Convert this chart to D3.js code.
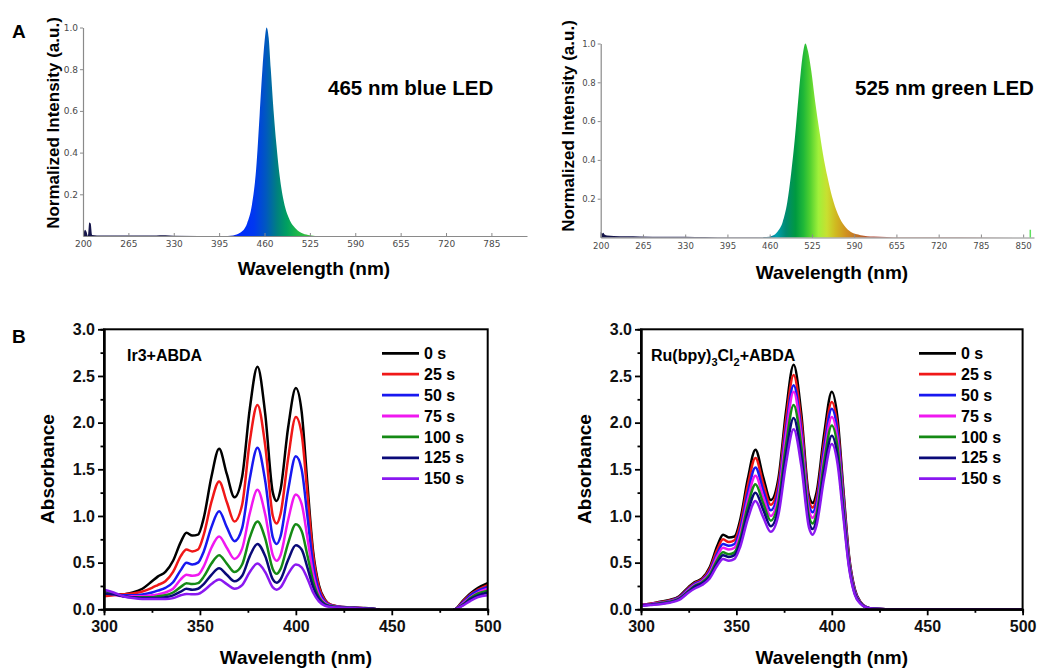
<!DOCTYPE html>
<html>
<head>
<meta charset="utf-8">
<script src="https://cdn.jsdelivr.net/npm/d3@7"></script>
<style>
body { margin: 0; background: #fff; }
text { font-family: "Liberation Sans", Arial, sans-serif; }
</style>
</head>
<body>
<svg id="fig" width="1045" height="668"></svg>
<script>
// ---- panel A: LED emission spectra ----
const blueLedNm = [200, 203, 205, 207, 209, 211, 213, 220, 300, 310, 318, 330, 400, 415, 425, 435, 442, 448, 453, 457, 460, 463, 466, 469, 473, 477, 482, 488, 495, 505, 515, 525, 540, 836]
const blueLedInt = [0, 0.03, 0.02, 0, 0.065, 0.06, 0.005, 0.003, 0.002, 0.004, 0.004, 0.001, 0, 0.003, 0.015, 0.06, 0.15, 0.32, 0.58, 0.8, 0.93, 1.0, 0.95, 0.8, 0.6, 0.44, 0.28, 0.16, 0.085, 0.035, 0.012, 0.004, 0, 0]
const blueLedColorNm = [200, 400, 420, 445, 462, 478, 492, 508, 525, 836]
const blueLedColors = ['#15154a', '#15154a', '#0028ff', '#0038f0', '#0058c0', '#00807f', '#00a060', '#20b848', '#40c040', '#40c040']

const greenLedNm = [200, 202, 204, 206, 210, 220, 240, 260, 300, 330, 360, 400, 455, 465, 472, 480, 487, 493, 499, 505, 510, 515, 519, 524, 530, 536, 542, 549, 556, 565, 575, 585, 600, 620, 640, 660, 866]
const greenLedInt = [0.03, 0.02, 0.025, 0.015, 0.01, 0.008, 0.006, 0.005, 0.004, 0.004, 0.002, 0.001, 0.002, 0.01, 0.03, 0.08, 0.18, 0.33, 0.52, 0.75, 0.92, 1.0, 0.96, 0.86, 0.70, 0.56, 0.43, 0.31, 0.21, 0.12, 0.06, 0.028, 0.012, 0.005, 0.003, 0.001, 0]
const greenLedColorNm = [200, 440, 470, 485, 500, 512, 522, 535, 548, 562, 578, 595, 620, 866]
const greenLedColors = ['#15154a', '#15154a', '#00a0b0', '#008a70', '#009a40', '#20b838', '#50d030', '#a0f03a', '#c8e030', '#d0b820', '#d09020', '#c07028', '#b04030', '#803030']
const greenLedSpikeNm = [861]
const greenLedSpikeInt = [0.04]

const ledTicksLeft = [200, 265, 330, 395, 460, 525, 590, 655, 720, 785]
const ledTicksRight = [200, 265, 330, 395, 460, 525, 590, 655, 720, 785, 850]
const ledYTicks = [0.2, 0.4, 0.6, 0.8, 1.0]

// ---- panel B: ABDA absorbance vs irradiation time ----
const absNm = [300, 305, 310, 315, 320, 325, 328, 332, 336, 340, 343, 346, 349, 352, 356, 360, 364, 368, 372, 376, 380, 384, 388, 390, 392, 396, 400, 403, 406, 409, 412, 415, 418, 422, 428, 435, 442, 450, 470, 483, 487, 491, 495, 500]

const ir3_0s = [0.16, 0.16, 0.16, 0.18, 0.22, 0.30, 0.35, 0.40, 0.52, 0.72, 0.82, 0.79, 0.80, 0.98, 1.42, 1.72, 1.45, 1.20, 1.42, 2.15, 2.60, 2.10, 1.25, 1.16, 1.28, 1.95, 2.37, 2.12, 1.35, 0.62, 0.26, 0.11, 0.05, 0.03, 0.02, 0.015, 0.0, -0.05, -0.06, 0.0, 0.09, 0.17, 0.23, 0.28]
const ir3_25s = [0.14, 0.15, 0.16, 0.17, 0.19, 0.23, 0.26, 0.30, 0.40, 0.57, 0.64, 0.62, 0.64, 0.80, 1.15, 1.37, 1.15, 0.94, 1.12, 1.80, 2.19, 1.76, 1.00, 0.92, 1.02, 1.62, 2.06, 1.88, 1.24, 0.58, 0.24, 0.10, 0.05, 0.03, 0.02, 0.012, 0.0, -0.05, -0.06, 0.0, 0.08, 0.16, 0.21, 0.26]
const ir3_50s = [0.18, 0.16, 0.15, 0.15, 0.16, 0.18, 0.20, 0.23, 0.29, 0.42, 0.50, 0.48, 0.50, 0.62, 0.88, 1.05, 0.88, 0.73, 0.87, 1.40, 1.73, 1.38, 0.77, 0.70, 0.78, 1.28, 1.64, 1.50, 1.00, 0.48, 0.20, 0.085, 0.045, 0.028, 0.02, 0.01, 0.0, -0.05, -0.06, 0.0, 0.07, 0.15, 0.20, 0.24]
const ir3_75s = [0.19, 0.16, 0.14, 0.14, 0.14, 0.15, 0.16, 0.18, 0.22, 0.32, 0.37, 0.36, 0.37, 0.46, 0.66, 0.78, 0.66, 0.54, 0.65, 1.03, 1.28, 1.02, 0.58, 0.52, 0.58, 0.96, 1.23, 1.13, 0.77, 0.38, 0.16, 0.07, 0.04, 0.025, 0.018, 0.01, 0.0, -0.05, -0.06, 0.0, 0.06, 0.13, 0.18, 0.22]
const ir3_100s = [0.20, 0.17, 0.14, 0.13, 0.13, 0.13, 0.14, 0.15, 0.18, 0.24, 0.28, 0.27, 0.28, 0.35, 0.49, 0.58, 0.49, 0.40, 0.48, 0.77, 0.94, 0.76, 0.43, 0.38, 0.43, 0.71, 0.91, 0.84, 0.58, 0.30, 0.13, 0.06, 0.035, 0.022, 0.016, 0.01, 0.0, -0.05, -0.06, 0.0, 0.05, 0.12, 0.17, 0.20]
const ir3_125s = [0.17, 0.16, 0.14, 0.13, 0.12, 0.12, 0.12, 0.13, 0.15, 0.19, 0.22, 0.21, 0.22, 0.27, 0.37, 0.44, 0.37, 0.30, 0.36, 0.57, 0.70, 0.57, 0.32, 0.285, 0.32, 0.53, 0.685, 0.64, 0.45, 0.24, 0.11, 0.05, 0.03, 0.02, 0.015, 0.01, 0.0, -0.05, -0.06, 0.0, 0.045, 0.11, 0.15, 0.18]
const ir3_150s = [0.21, 0.18, 0.14, 0.12, 0.11, 0.11, 0.11, 0.11, 0.12, 0.15, 0.165, 0.16, 0.165, 0.20, 0.27, 0.32, 0.27, 0.22, 0.26, 0.40, 0.49, 0.40, 0.235, 0.21, 0.235, 0.38, 0.48, 0.45, 0.33, 0.18, 0.085, 0.04, 0.025, 0.018, 0.013, 0.008, 0.0, -0.05, -0.06, 0.0, 0.04, 0.09, 0.13, 0.15]

const ru_0s = [0.05, 0.06, 0.08, 0.10, 0.14, 0.24, 0.29, 0.33, 0.45, 0.68, 0.80, 0.77, 0.78, 0.96, 1.40, 1.71, 1.42, 1.17, 1.40, 2.12, 2.62, 2.10, 1.22, 1.14, 1.25, 1.88, 2.33, 2.05, 1.30, 0.58, 0.22, 0.08, 0.025, 0.005, 0, 0, 0, 0, 0, 0, 0, 0, 0, 0]
const ru_25s = [0.05, 0.06, 0.075, 0.095, 0.13, 0.23, 0.28, 0.32, 0.43, 0.64, 0.75, 0.72, 0.74, 0.91, 1.33, 1.62, 1.35, 1.12, 1.34, 2.03, 2.51, 2.01, 1.17, 1.09, 1.19, 1.79, 2.22, 1.96, 1.25, 0.56, 0.21, 0.075, 0.024, 0.005, 0, 0, 0, 0, 0, 0, 0, 0, 0, 0]
const ru_50s = [0.045, 0.055, 0.07, 0.09, 0.125, 0.22, 0.27, 0.31, 0.41, 0.60, 0.70, 0.68, 0.70, 0.86, 1.25, 1.52, 1.28, 1.06, 1.28, 1.94, 2.40, 1.92, 1.12, 1.04, 1.14, 1.73, 2.15, 1.90, 1.21, 0.54, 0.20, 0.072, 0.023, 0.005, 0, 0, 0, 0, 0, 0, 0, 0, 0, 0]
const ru_75s = [0.045, 0.055, 0.07, 0.085, 0.12, 0.21, 0.26, 0.30, 0.39, 0.57, 0.66, 0.64, 0.66, 0.81, 1.18, 1.43, 1.21, 1.00, 1.22, 1.87, 2.33, 1.85, 1.06, 0.98, 1.08, 1.65, 2.06, 1.82, 1.16, 0.52, 0.19, 0.07, 0.022, 0.005, 0, 0, 0, 0, 0, 0, 0, 0, 0, 0]
const ru_100s = [0.04, 0.05, 0.065, 0.08, 0.115, 0.20, 0.25, 0.29, 0.37, 0.53, 0.61, 0.59, 0.61, 0.76, 1.11, 1.34, 1.14, 0.95, 1.15, 1.76, 2.19, 1.75, 1.00, 0.92, 1.02, 1.58, 1.97, 1.74, 1.11, 0.50, 0.18, 0.068, 0.021, 0.005, 0, 0, 0, 0, 0, 0, 0, 0, 0, 0]
const ru_125s = [0.04, 0.05, 0.06, 0.075, 0.11, 0.19, 0.24, 0.28, 0.35, 0.50, 0.58, 0.56, 0.58, 0.72, 1.04, 1.25, 1.07, 0.89, 1.08, 1.66, 2.05, 1.64, 0.94, 0.86, 0.96, 1.49, 1.86, 1.64, 1.05, 0.47, 0.17, 0.065, 0.02, 0.005, 0, 0, 0, 0, 0, 0, 0, 0, 0, 0]
const ru_150s = [0.035, 0.045, 0.055, 0.07, 0.10, 0.18, 0.22, 0.26, 0.33, 0.47, 0.54, 0.52, 0.54, 0.67, 0.97, 1.16, 0.99, 0.83, 1.01, 1.56, 1.93, 1.54, 0.88, 0.80, 0.90, 1.41, 1.77, 1.56, 1.00, 0.45, 0.16, 0.06, 0.02, 0.005, 0, 0, 0, 0, 0, 0, 0, 0, 0, 0]

const timeLabels = ['0 s', '25 s', '50 s', '75 s', '100 s', '125 s', '150 s']
const timeColors = ['#000000', '#f01818', '#1818f0', '#f018f0', '#158a15', '#0a0a78', '#8a18f0']
const absXTicks = [300, 350, 400, 450, 500]
const absXMinor = [325, 375, 425, 475]
const absYTicks = [0, 0.5, 1.0, 1.5, 2.0, 2.5, 3.0]
const absYMinor = [0.25, 0.75, 1.25, 1.75, 2.25, 2.75]

const svg = d3.select('#fig')
const defs = svg.append('defs')

// panel letters
svg.append('text').attr('x', 12).attr('y', 38).text('A')
    .style('font-size', '19px').style('font-weight', 'bold')
svg.append('text').attr('x', 12).attr('y', 343).text('B')
    .style('font-size', '19px').style('font-weight', 'bold')

function drawLed (cfg) {
    const x = d3.scaleLinear().domain(cfg.xDomain).range(cfg.xRange)
    const y = d3.scaleLinear().domain([0, 1]).range(cfg.yRange)
    const g = svg.append('g')

    const grad = defs.append('linearGradient')
        .attr('id', cfg.id)
        .attr('gradientUnits', 'userSpaceOnUse')
        .attr('x1', cfg.xRange[0]).attr('x2', cfg.xRange[1])
        .attr('y1', 0).attr('y2', 0)
    cfg.colorNm.forEach((nm, i) => {
        grad.append('stop')
            .attr('offset', (x(nm) - cfg.xRange[0]) / (cfg.xRange[1] - cfg.xRange[0]))
            .attr('stop-color', cfg.colors[i])
    })

    const pts = cfg.nm.map((d, i) => [d, cfg.val[i]])
    const area = d3.area()
        .x(d => x(d[0]))
        .y0(y(0))
        .y1(d => y(d[1]))
        .curve(d3.curveMonotoneX)
    g.append('path').datum(pts).attr('d', area).attr('fill', `url(#${cfg.id})`)

    const xAxis = g.append('g')
        .attr('transform', `translate(0,${cfg.yRange[0]})`)
        .call(d3.axisBottom(x).tickValues(cfg.xTicks).tickSizeInner(-3).tickSizeOuter(0).tickPadding(5))
    const yAxis = g.append('g')
        .attr('transform', `translate(${cfg.xRange[0]},0)`)
        .call(d3.axisLeft(y).tickValues(ledYTicks).tickFormat(d3.format('.1f')).tickSizeInner(3).tickSizeOuter(0).tickPadding(2))
    ;[xAxis, yAxis].forEach(a => {
        a.select('.domain').attr('stroke', '#8a8a8a').attr('stroke-width', 1.2)
        a.selectAll('.tick line').attr('stroke', '#8a8a8a')
        a.selectAll('.tick text')
            .attr('fill', '#4a4a4a')
            .style('font-family', '"DejaVu Sans", sans-serif')
            .style('font-size', cfg.tickFont)
    })

    g.append('text').attr('x', cfg.titleX).attr('y', cfg.titleY)
        .attr('text-anchor', 'middle').attr('dy', '0.35em')
        .style('font-size', '19px').style('font-weight', 'bold')
        .text('Wavelength (nm)')
    g.append('text')
        .attr('transform', `translate(${cfg.yTitleX},${cfg.yTitleY}) rotate(-90)`)
        .attr('text-anchor', 'middle').attr('dy', '0.35em')
        .style('font-size', '17px').style('font-weight', 'bold')
        .text('Normalized Intensity (a.u.)')
    g.append('text').attr('x', cfg.noteX).attr('y', 95)
        .style('font-size', '20.5px').style('font-weight', 'bold')
        .text(cfg.note)
    return {x, y, g}
}

drawLed({
    id: 'blueGrad', nm: blueLedNm, val: blueLedInt, colorNm: blueLedColorNm, colors: blueLedColors,
    xDomain: [200, 836], xRange: [83, 527], yRange: [236, 27.5], xTicks: ledTicksLeft,
    tickFont: '9px', titleX: 314, titleY: 268, yTitleX: 53, yTitleY: 123,
    noteX: 328, note: '465 nm blue LED'
})
const greenPanel = drawLed({
    id: 'greenGrad', nm: greenLedNm, val: greenLedInt, colorNm: greenLedColorNm, colors: greenLedColors,
    xDomain: [200, 866.7], xRange: [600.7, 1034], yRange: [237.5, 43.5], xTicks: ledTicksRight,
    tickFont: '8.5px', titleX: 832, titleY: 272, yTitleX: 568, yTitleY: 126,
    noteX: 855, note: '525 nm green LED'
})
greenPanel.g.selectAll('line.spike')
    .data(greenLedSpikeNm)
    .enter().append('line')
    .attr('class', 'spike')
    .attr('x1', d => greenPanel.x(d)).attr('x2', d => greenPanel.x(d))
    .attr('y1', greenPanel.y(0)).attr('y2', (d, i) => greenPanel.y(greenLedSpikeInt[i]))
    .attr('stroke', '#5ee05e').attr('stroke-width', 1.5)

function drawAbs (cfg) {
    const x = d3.scaleLinear().domain([300, 500]).range(cfg.xRange)
    const y = d3.scaleLinear().domain([0, 3]).range([609.3, 329.3])
    const g = svg.append('g')

    g.append('clipPath').attr('id', cfg.id)
        .append('rect')
        .attr('x', cfg.xRange[0]).attr('y', 329.3)
        .attr('width', cfg.xRange[1] - cfg.xRange[0]).attr('height', 609.3 - 329.3)

    const line = d3.line()
        .x(d => x(d[0]))
        .y(d => y(d[1]))
        .curve(d3.curveMonotoneX)

    g.append('g').attr('clip-path', `url(#${cfg.id})`)
        .selectAll('path')
        .data(cfg.series)
        .enter().append('path')
        .attr('d', s => line(absNm.map((nm, i) => [nm, s[i]])))
        .attr('fill', 'none')
        .attr('stroke', (s, i) => timeColors[i])
        .attr('stroke-width', 2.5)
        .attr('stroke-linejoin', 'round')

    // frame
    g.append('rect')
        .attr('x', cfg.xRange[0]).attr('y', 329.3)
        .attr('width', cfg.xRange[1] - cfg.xRange[0]).attr('height', 609.3 - 329.3)
        .attr('fill', 'none').attr('stroke', '#000').attr('stroke-width', 2)

    const axes = []
    axes.push(g.append('g').attr('transform', 'translate(0,609.3)')
        .call(d3.axisBottom(x).tickValues(absXMinor).tickSize(3.5).tickFormat('')))
    axes.push(g.append('g').attr('transform', `translate(${cfg.xRange[0]},0)`)
        .call(d3.axisLeft(y).tickValues(absYMinor).tickSize(3.5).tickFormat('')))
    axes.push(g.append('g').attr('transform', 'translate(0,609.3)')
        .call(d3.axisBottom(x).tickValues(absXTicks).tickSize(6).tickSizeOuter(0).tickPadding(5).tickFormat(d3.format('d'))))
    axes.push(g.append('g').attr('transform', `translate(${cfg.xRange[0]},0)`)
        .call(d3.axisLeft(y).tickValues(absYTicks).tickSize(6).tickSizeOuter(0).tickPadding(3).tickFormat(d3.format('.1f'))))
    axes.forEach(a => {
        a.select('.domain').attr('stroke', '#000').attr('stroke-width', 2)
        a.selectAll('.tick line').attr('stroke', '#000').attr('stroke-width', 1.8)
        a.selectAll('.tick text')
            .attr('fill', '#111')
            .style('font-size', '16px').style('font-weight', 'bold')
            .style('font-family', '"Liberation Sans", Arial, sans-serif')
    })

    const midX = (cfg.xRange[0] + cfg.xRange[1]) / 2
    g.append('text').attr('x', midX).attr('y', 657)
        .attr('text-anchor', 'middle').attr('dy', '0.35em')
        .style('font-size', '19px').style('font-weight', 'bold')
        .text('Wavelength (nm)')
    g.append('text')
        .attr('transform', `translate(${cfg.yTitleX},469) rotate(-90)`)
        .attr('text-anchor', 'middle').attr('dy', '0.35em')
        .style('font-size', '19px').style('font-weight', 'bold')
        .text('Absorbance')

    // legend
    const lx = cfg.xRange[0] + 278
    const leg = g.append('g').selectAll('g')
        .data(timeLabels)
        .enter().append('g')
        .attr('transform', (d, i) => `translate(${lx},${353.3 + i * 20.9})`)
    leg.append('line')
        .attr('x1', 0).attr('x2', 37)
        .attr('stroke', (d, i) => timeColors[i]).attr('stroke-width', 2.8)
    leg.append('text')
        .attr('x', 42).attr('dy', '0.35em')
        .style('font-size', '16px').style('font-weight', 'bold')
        .text(d => d)
    return g
}

const gIr = drawAbs({
    id: 'clipIr', xRange: [104, 487.7], yTitleX: 47,
    series: [ir3_0s, ir3_25s, ir3_50s, ir3_75s, ir3_100s, ir3_125s, ir3_150s]
})
gIr.append('text').attr('x', 127).attr('y', 355).attr('dy', '0.35em')
    .style('font-size', '16px').style('font-weight', 'bold')
    .text('Ir3+ABDA')

const gRu = drawAbs({
    id: 'clipRu', xRange: [641, 1022.6], yTitleX: 584,
    series: [ru_0s, ru_25s, ru_50s, ru_75s, ru_100s, ru_125s, ru_150s]
})
const ruLabel = gRu.append('text').attr('x', 651).attr('y', 355).attr('dy', '0.35em')
    .style('font-size', '16px').style('font-weight', 'bold')
ruLabel.append('tspan').text('Ru(bpy)')
ruLabel.append('tspan').attr('dy', 5).style('font-size', '11px').text('3')
ruLabel.append('tspan').attr('dy', -5).text('Cl')
ruLabel.append('tspan').attr('dy', 5).style('font-size', '11px').text('2')
ruLabel.append('tspan').attr('dy', -5).text('+ABDA')
</script>
</body>
</html>
